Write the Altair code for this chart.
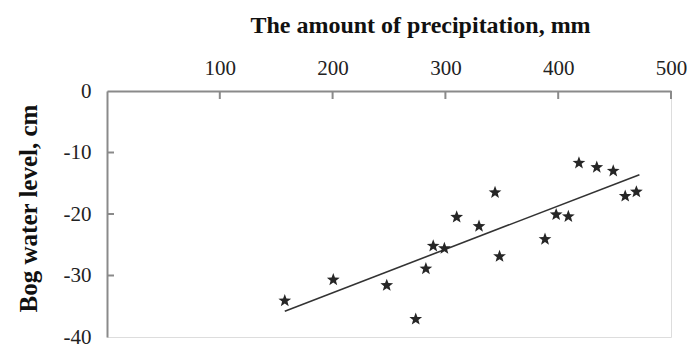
import altair as alt
import pandas as pd

precip = [157.6, 200.6, 248.0, 273.7, 282.7, 289.2, 299.1, 310.0, 329.8, 344.0,
          348.0, 388.3, 398.2, 409.0, 418.4, 434.2, 448.8, 459.4, 469.3]
level = [-34.1, -30.7, -31.6, -37.1, -28.9, -25.2, -25.6, -20.5, -22.0, -16.5,
         -26.9, -24.1, -20.1, -20.4, -11.7, -12.4, -13.0, -17.1, -16.4]

# Trend line endpoints
trend_x = [157.6, 472.0]
trend_y = [-35.8, -13.6]

x_ticks = [100, 200, 300, 400, 500]
y_ticks = [0, -10, -20, -30, -40]
y_inner_ticks = [-10, -20, -30]

FONT = "Liberation Serif"
AXIS_GRAY = "#8a8a8a"

pts = pd.DataFrame({"x": precip, "y": level})
trend = pd.DataFrame({"x": trend_x, "y": trend_y})
xt = pd.DataFrame({"x": x_ticks})
yt = pd.DataFrame({"y": y_inner_ticks})

xscale = alt.Scale(domain=[0, 500], nice=False, zero=False)
yscale = alt.Scale(domain=[-40, 0], nice=False, zero=False)

STAR = ("M0,-1L0.247,-0.34L0.951,-0.309L0.399,0.13L0.588,0.809L0,0.42"
        "L-0.588,0.809L-0.399,0.13L-0.951,-0.309L-0.247,-0.34Z")

x_axis = alt.Axis(
    orient="top", values=x_ticks, title="The amount of precipitation, mm",
    grid=False, ticks=False, tickSize=0, labelPadding=13,
    labelFont=FONT, labelFontSize=21, labelColor="#222222",
    titleFont=FONT, titleFontSize=24, titleFontWeight="bold", titleColor="#111111",
    titleAnchor="middle", titleX=313, titleY=-59, titleBaseline="alphabetic",
    domainColor=AXIS_GRAY, domainWidth=2, labelFlush=False,
)
y_axis = alt.Axis(
    orient="left", values=y_ticks, title="Bog water level, cm",
    grid=False, ticks=False, tickSize=0, labelPadding=16,
    labelExpr="datum.value + ''",
    labelFont=FONT, labelFontSize=21, labelColor="#222222",
    titleFont=FONT, titleFontSize=25, titleFontWeight="bold", titleColor="#111111",
    titlePadding=22, titleY=117,
    domainColor=AXIS_GRAY, domainWidth=2, labelFlush=False,
)

line = alt.Chart(trend).mark_line(color="#333333", strokeWidth=1.6).encode(
    x=alt.X("x:Q", scale=xscale, axis=x_axis),
    y=alt.Y("y:Q", scale=yscale, axis=y_axis),
)

xtick_marks = alt.Chart(xt).mark_rule(color=AXIS_GRAY, strokeWidth=2).encode(
    x=alt.X("x:Q", scale=xscale),
    y=alt.value(0),
    y2=alt.value(8),
)

ytick_marks = alt.Chart(yt).mark_rule(color=AXIS_GRAY, strokeWidth=2).encode(
    y=alt.Y("y:Q", scale=yscale),
    x=alt.value(0),
    x2=alt.value(7),
)

points = alt.Chart(pts).mark_point(
    shape=STAR, filled=True, color="#262626", size=180, opacity=1
).encode(
    x=alt.X("x:Q", scale=xscale),
    y=alt.Y("y:Q", scale=yscale),
)

chart = alt.layer(line, xtick_marks, ytick_marks, points).properties(
    width=564,
    height=246,
    autosize=alt.AutoSizeParams(type="none"),
    padding={"left": 99, "top": 83, "right": 16, "bottom": 10},
).configure_view(strokeWidth=0, stroke="transparent").configure(background="white")

chart.save("out.html", embed_options={"renderer": "svg", "actions": False})
